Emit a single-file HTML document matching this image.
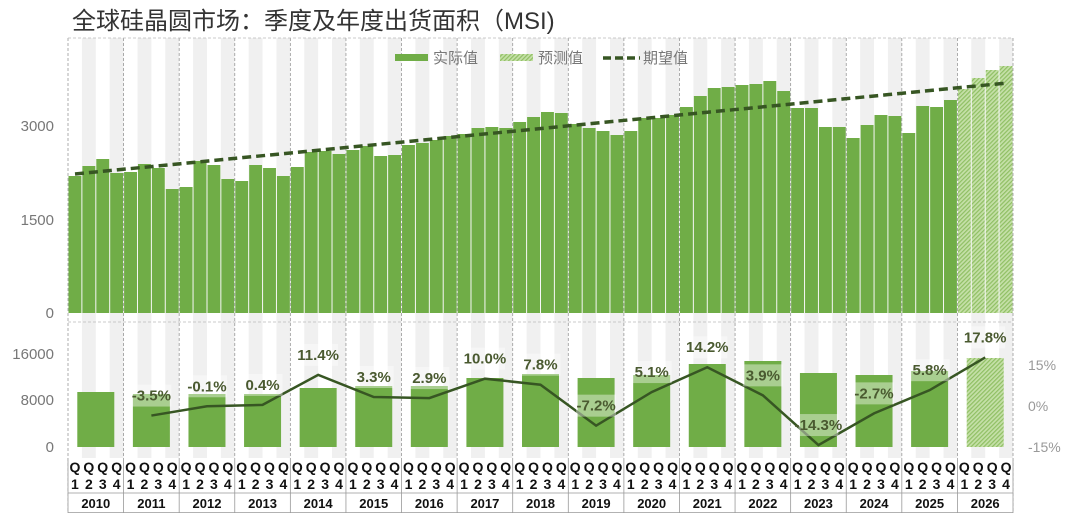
<!DOCTYPE html>
<html><head><meta charset="utf-8"><style>
body{margin:0;background:#fff;width:1080px;height:513px;overflow:hidden}
svg{display:block;font-family:"Liberation Sans","Noto Sans CJK SC",sans-serif}
</style></head><body>
<svg id="s" width="1080" height="513" xmlns="http://www.w3.org/2000/svg">
<defs>
<pattern id="h" width="3" height="3" patternUnits="userSpaceOnUse" patternTransform="rotate(45)">
<rect width="3" height="3" fill="#c5e0a8"/><rect width="1.2" height="3" fill="#8fbf63"/></pattern>
</defs>
<text x="72" y="29" font-size="24" fill="#333">全球硅晶圆市场：季度及年度出货面积（MSI)</text>
<g id="g"></g>
</svg>
<script>
const g=document.getElementById('g');let h='';
const x0=68,W=945/68;
for(let i=0;i<68;i++){if(i%2==1){h+=`<rect x="${x0+i*W}" y="38" width="${W}" height="420" fill="#f0f0f0"/>`;}}
const tops=[176,166,159,173,172,164,168,189,187,161,165,179,181,165,168,176,167,152,151,154,150,146,156,155,145,143,140,136,134,128,127,128,122,117,112,113,124,128,131,135,131,118,118,115,107,96,88,87,85,84,81,91,108,108,127,127,138,125,115,116,133,106,107,100,89,78,70,66];
tops.forEach((t,i)=>{h+=`<rect x="${x0+i*W+0.5}" y="${t}" width="${W-1}" height="${313-t}" fill="${i>=64?'url(#h)':'#70ad47'}"/>`;});
for(let y=0;y<=17;y++){const x=x0+y*4*W;h+=`<line x1="${x}" y1="38" x2="${x}" y2="513" stroke="#999" stroke-dasharray="3,2" stroke-width="0.8"/>`;}
h+=`<line x1="${x0}" y1="38" x2="1013" y2="38" stroke="#bbb" stroke-dasharray="3,2" stroke-width="0.8"/>`;
h+=`<line x1="${x0}" y1="322" x2="1013" y2="322" stroke="#bbb" stroke-dasharray="3,2" stroke-width="0.8"/>`;
h+=`<line x1="75" y1="174" x2="1007" y2="83" stroke="#375623" stroke-width="3.5" stroke-dasharray="9,5"/>`;
[[3000,131],[1500,225],[0,318]].forEach(([v,y])=>h+=`<text x="54" y="${y}" font-size="15" fill="#777" text-anchor="end">${v}</text>`);
h+=`<rect x="395" y="54" width="33" height="7" fill="#70ad47"/><text x="433" y="63" font-size="15" fill="#777">实际值</text>`;
h+=`<rect x="500" y="54" width="33" height="7" fill="url(#h)"/><text x="538" y="63" font-size="15" fill="#777">预测值</text>`;
h+=`<line x1="603" y1="58" x2="640" y2="58" stroke="#375623" stroke-width="3.5" stroke-dasharray="8,4"/><text x="643" y="63" font-size="15" fill="#777">期望值</text>`;
const bt=[392,394,394,394,388,386,386,378,374,378,375,364,361,373,375,371,358];
const pct=[null,-3.5,-0.1,0.4,11.4,3.3,2.9,10.0,7.8,-7.2,5.1,14.2,3.9,-14.3,-2.7,5.8,17.8];
let pts=[];
bt.forEach((t,i)=>{const cx=x0+(i*4+2)*W;h+=`<rect x="${cx-18.5}" y="${t}" width="37" height="${447-t}" fill="${i==16?'url(#h)':'#70ad47'}"/>`;});
pct.forEach((p,i)=>{if(p===null)return;const cx=x0+(i*4+2)*W;pts.push(`${cx},${406-p*2.73}`);});
h+=`<polyline points="${pts.join(' ')}" fill="none" stroke="#375623" stroke-width="2.5"/>`;
pct.forEach((p,i)=>{if(p===null)return;const cx=x0+(i*4+2)*W;const y=406-p*2.73-20;const s=p.toFixed(1)+'%';
h+=`<rect x="${cx-20}" y="${y-11}" width="40" height="22" fill="#fff" fill-opacity="0.4"/>`;
h+=`<text x="${cx}" y="${y+5}" font-size="15" font-weight="bold" fill="#4a5a30" text-anchor="middle">${s}</text>`;});
[[16000,359],[8000,405],[0,452]].forEach(([v,y])=>h+=`<text x="54" y="${y}" font-size="15" fill="#777" text-anchor="end">${v}</text>`);
[['15%',370],['0%',411],['-15%',452]].forEach(([v,y])=>h+=`<text x="1028" y="${y}" font-size="14" fill="#999">${v}</text>`);
h+=`<rect x="${x0}" y="458" width="945" height="55" fill="#fff"/>`;
for(let y=0;y<=17;y++){const x=x0+y*4*W;h+=`<line x1="${x}" y1="458" x2="${x}" y2="513" stroke="#999" stroke-width="0.8"/>`;}
h+=`<line x1="${x0}" y1="493" x2="1013" y2="493" stroke="#999" stroke-width="0.8"/><line x1="${x0}" y1="512.5" x2="1013" y2="512.5" stroke="#999" stroke-width="0.8"/>`;
for(let i=0;i<68;i++){const cx=x0+(i+0.5)*W;h+=`<text x="${cx}" y="472" font-size="14" font-weight="bold" fill="#111" text-anchor="middle">Q</text><text x="${cx}" y="489" font-size="14" font-weight="bold" fill="#111" text-anchor="middle">${i%4+1}</text>`;}
for(let y=0;y<17;y++){const cx=x0+(y*4+2)*W;h+=`<text x="${cx}" y="508" font-size="13" font-weight="bold" fill="#111" text-anchor="middle">${2010+y}</text>`;}
g.innerHTML=h;
</script>
</body></html>
